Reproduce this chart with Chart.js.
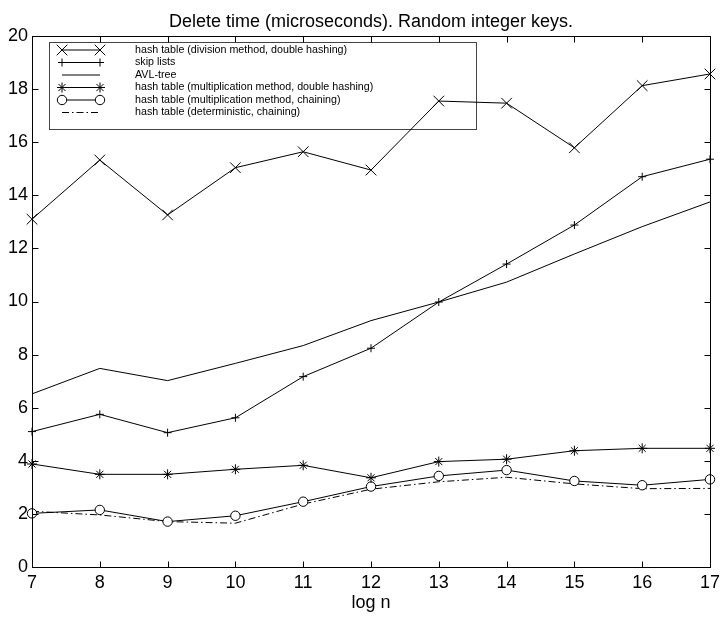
<!DOCTYPE html>
<html>
<head>
<meta charset="utf-8">
<script src="https://cdn.jsdelivr.net/npm/chart.js@4.4.1/dist/chart.umd.min.js"></script>
<style>
  html, body { margin: 0; padding: 0; background: #fff; }
</style>
</head>
<body>
<canvas id="chart" width="725" height="618"></canvas>
<script>
/* Delete time vs log n — MATLAB-style line chart with boxed legend. */
(function () {
  "use strict";
  var logN = [7, 8, 9, 10, 11, 12, 13, 14, 15, 16, 17];
  var yTicks = [0, 2, 4, 6, 8, 10, 12, 14, 16, 18, 20];

  var divDouble = [13.1, 15.33, 13.26, 15.04, 15.64, 14.95, 17.55, 17.47, 15.79, 18.13, 18.57];
  var skipLists = [5.1, 5.75, 5.06, 5.62, 7.17, 8.24, 9.98, 11.41, 12.88, 14.7, 15.36];
  var avlTree = [6.52, 7.48, 7.02, 7.67, 8.34, 9.28, 9.98, 10.73, 11.79, 12.82, 13.75];
  var mulDouble = [3.88, 3.49, 3.49, 3.68, 3.83, 3.36, 3.97, 4.06, 4.38, 4.47, 4.47];
  var mulChain = [2.02, 2.15, 1.71, 1.93, 2.46, 3.03, 3.43, 3.65, 3.24, 3.08, 3.3];
  var detChain = [2.1, 1.96, 1.71, 1.65, 2.37, 2.93, 3.21, 3.38, 3.13, 2.95, 2.96];

  var FONT = '"Liberation Sans", Arial, Helvetica, sans-serif';

  function pts(arr) { return logN.map(function (x, i) { return { x: x, y: arr[i] }; }); }

  function series(label, arr, style, radius, extra) {
    var ds = {
      label: label, data: pts(arr),
      borderColor: "#000", borderWidth: 1, tension: 0, clip: false,
      pointStyle: style || "circle", pointRadius: radius, pointHoverRadius: radius,
      pointBorderColor: "#000", pointBorderWidth: 1, pointBackgroundColor: "#000"
    };
    for (var k in extra || {}) ds[k] = extra[k];
    return ds;
  }

  var boxPlugin = {
    id: "matlabBox",
    afterDatasetsDraw: function (chart) {
      var a = chart.chartArea, ctx = chart.ctx, xs = chart.scales.x, ys = chart.scales.y;
      var l = Math.round(a.left) + 0.5, r = Math.round(a.right) + 0.5, t = Math.round(a.top) + 0.5, b = Math.round(a.bottom) + 0.5;
      ctx.save();
      ctx.strokeStyle = "#000"; ctx.lineWidth = 1;
      ctx.strokeRect(l, t, r - l, b - t);
      ctx.beginPath();
      xs.ticks.forEach(function (tk) {
        var p = Math.round(xs.getPixelForValue(tk.value)) + 0.5;
        ctx.moveTo(p, b); ctx.lineTo(p, b - 6);
        ctx.moveTo(p, t); ctx.lineTo(p, t + 6);
      });
      ys.ticks.forEach(function (tk) {
        var p = Math.round(ys.getPixelForValue(tk.value)) + 0.5;
        ctx.moveTo(l, p); ctx.lineTo(l + 6, p);
        ctx.moveTo(r, p); ctx.lineTo(r - 6, p);
      });
      ctx.stroke();
      ctx.restore();
    }
  };

  var legendPlugin = {
    id: "boxLegend",
    beforeDatasetsDraw: function (chart) {
      var a = chart.chartArea, ctx = chart.ctx;
      var L = Math.round(a.left) + 17, T = Math.round(a.top) + 6, W = 427, H = 87, row = 12.5;
      ctx.save();
      ctx.fillStyle = "#fff"; ctx.fillRect(L, T, W, H);
      ctx.strokeStyle = "#444"; ctx.lineWidth = 1;
      ctx.strokeRect(L + 0.5, T + 0.5, W, H);
      ctx.font = "10.7px " + FONT;
      ctx.textBaseline = "middle";
      chart.data.datasets.forEach(function (ds, i) {
        var y = T + 8 + i * row, x1 = L + 13, x2 = L + 51;
        ctx.strokeStyle = "#000"; ctx.lineWidth = 1;
        ctx.setLineDash(ds.borderDash || []);
        ctx.beginPath(); ctx.moveTo(x1, y); ctx.lineTo(x2, y); ctx.stroke();
        ctx.setLineDash([]);
        if (ds.pointRadius > 0) {
          ctx.fillStyle = ds.pointBackgroundColor;
          [x1, x2].forEach(function (x) {
            Chart.helpers.drawPoint(ctx, { pointStyle: ds.pointStyle, radius: ds.pointRadius, borderWidth: 1, rotation: 0 }, x, y);
          });
        }
        ctx.fillStyle = "#000";
        ctx.fillText(ds.label, L + 86, y);
      });
      ctx.restore();
    }
  };

  var tickFont = { family: FONT, size: 18 };

  new Chart(document.getElementById("chart"), {
    type: "line",
    data: {
      datasets: [
        series("hash table (division method, double hashing)", divDouble, "crossRot", 7.5),
        series("skip lists", skipLists, "cross", 4),
        series("AVL-tree", avlTree, "circle", 0),
        series("hash table (multiplication method, double hashing)", mulDouble, "star", 5),
        series("hash table (multiplication method, chaining)", mulChain, "circle", 4.7, { pointBackgroundColor: "#fff" }),
        series("hash table (deterministic, chaining)", detChain, "circle", 0, { borderDash: [7, 3, 1.5, 3] })
      ]
    },
    options: {
      responsive: false, animation: false, devicePixelRatio: 1,
      layout: { padding: { top: 0, right: 10, bottom: 0, left: 0 } },
      plugins: {
        legend: { display: false },
        tooltip: { enabled: false },
        title: { display: false }
      },
      scales: {
        x: {
          type: "linear", min: 7, max: 17,
          afterBuildTicks: function (s) { s.ticks = logN.map(function (v) { return { value: v }; }); },
          afterFit: function (s) { s.height = 51; },
          grid: { display: false, drawTicks: false }, border: { display: false },
          ticks: { color: "#000", font: tickFont, padding: 5, maxRotation: 0, autoSkip: false },
          title: { display: true, text: "log n", color: "#000", font: tickFont, padding: { top: 0, bottom: 4 } }
        },
        xTop: {
          type: "linear", position: "top", min: 7, max: 17,
          afterFit: function (s) { s.height = 36; },
          grid: { display: false, drawTicks: false }, border: { display: false },
          ticks: { display: false },
          title: {
            display: true, text: "Delete time (microseconds). Random integer keys.",
            color: "#000", font: tickFont, padding: { top: 11, bottom: 0 }
          }
        },
        y: {
          type: "linear", min: 0, max: 20,
          afterBuildTicks: function (s) { s.ticks = yTicks.map(function (v) { return { value: v }; }); },
          afterFit: function (s) { s.width = 32; },
          grid: { display: false, drawTicks: false }, border: { display: false },
          ticks: { color: "#000", font: tickFont, padding: 4, autoSkip: false }
        }
      }
    },
    plugins: [legendPlugin, boxPlugin]
  });
})();
</script>
</body>
</html>
